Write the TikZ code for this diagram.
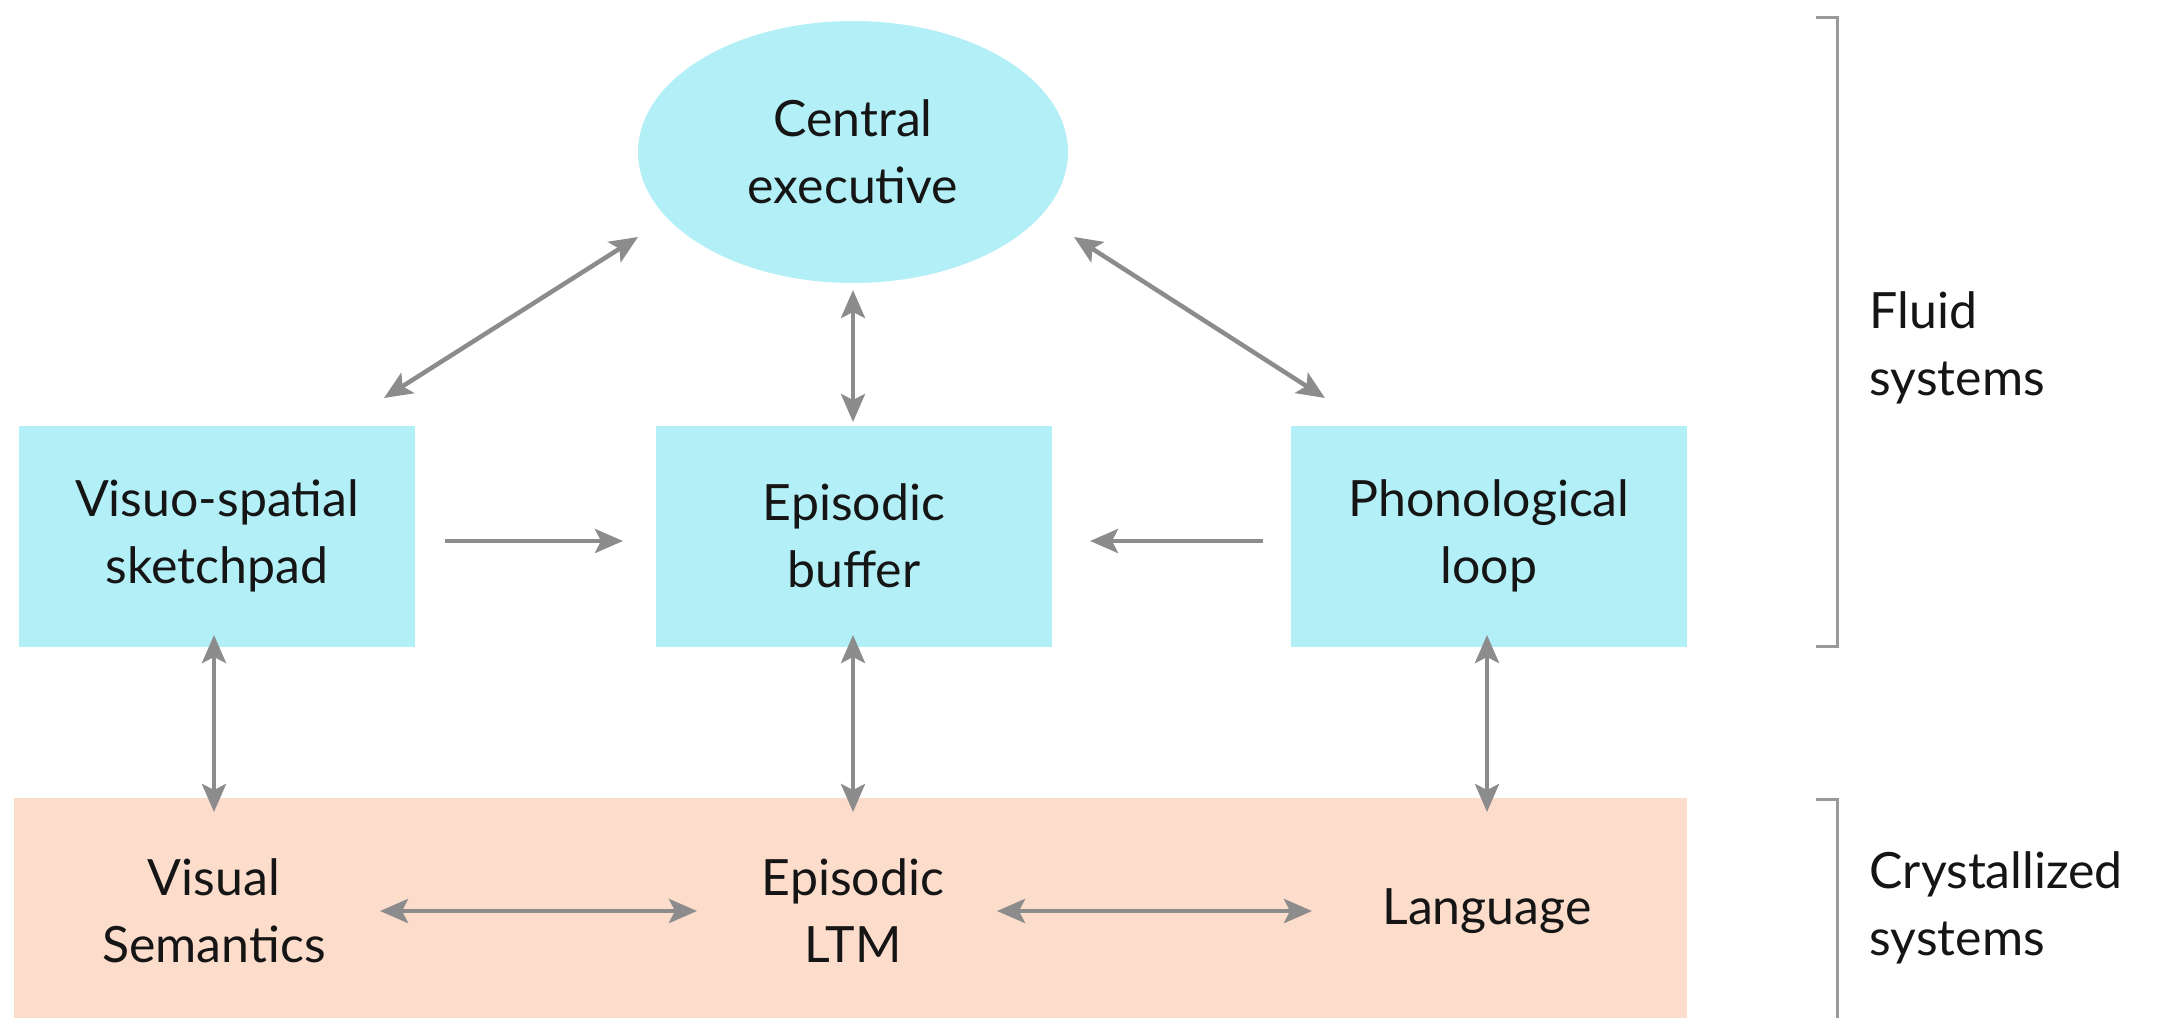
\documentclass[tikz,border=0pt]{standalone}
\usepackage{fontspec}
\setmainfont{Lato}
\usetikzlibrary{arrows.meta,calc,shapes.geometric}
\definecolor{cyanfill}{HTML}{B3EFF7}
\definecolor{peach}{HTML}{FCDCCB}
\definecolor{arrgray}{HTML}{8C8C8C}
\definecolor{brgray}{HTML}{999999}
\definecolor{ink}{HTML}{151515}
\begin{document}
\begin{tikzpicture}[x=1pt,y=-1pt,
  txt/.style={font=\fontsize{50}{67}\selectfont, text=ink, align=center},
  cbox/.style={txt, fill=cyanfill, minimum width=396pt, minimum height=221pt, inner sep=0pt},
  cell/.style={txt, ellipse, fill=cyanfill, minimum width=430pt, minimum height=262pt, inner sep=0pt},
  link/.style={draw=arrgray, line width=4.5pt, {Stealth[length=28pt,width=24pt,inset=6pt]}-{Stealth[length=28pt,width=24pt,inset=6pt]}},
  oneway/.style={draw=arrgray, line width=4.5pt, -{Stealth[length=28pt,width=24pt,inset=6pt]}},
  bracket/.style={draw=brgray, line width=3pt},
  side/.style={txt, align=left, anchor=west}]
\useasboundingbox (0,0) rectangle (2165,1017);
% bottom band
\node[fill=peach, inner sep=0pt, minimum width=1673pt, minimum height=225pt, anchor=north west] (band) at (14,798) {};
% nodes
\node[cell] (ce) at (853,152) {Central\\executive};
\node[cbox] (vs) at (217,536) {Visuo-spatial\\sketchpad};
\node[cbox] (eb) at (854,536) {Episodic\\buffer};
\node[cbox] (pl) at (1489,536) {Phonological\\loop};
\node[txt] (vsem) at (214,911) {Visual\\Semantics};
\node[txt] (ltm) at (853,911) {Episodic\\LTM};
\node[txt] (lang) at (1487,911) {Language};
\node[side] (fluid) at (1866,348) {Fluid\\systems};
\node[side] (cryst) at (1866,908) {Crystallized\\systems};
% coordinates for free ends
\coordinate (vsT) at (214,635);
\coordinate (vsB) at (214,812);
\coordinate (ebT) at (853,635);
\coordinate (ebB) at (853,812);
\coordinate (plT) at (1487,635);
\coordinate (plB) at (1487,812);
\coordinate (ceL) at (638,237);
\coordinate (vsUR) at (384,398);
\coordinate (ceR) at (1074,237);
\coordinate (plUL) at (1325,398);
\coordinate (ceB) at (853,290);
\coordinate (ebTop) at (853,422);
\coordinate (vsR) at (445,541);
\coordinate (ebL) at (623,541);
\coordinate (plL) at (1263,541);
\coordinate (ebR) at (1090,541);
\coordinate (vsemR) at (380,911);
\coordinate (ltmL) at (697,911);
\coordinate (ltmR) at (997,911);
\coordinate (langL) at (1312,911);
% connectors
\draw[link] (ceL) -- (vsUR);
\draw[link] (ceR) -- (plUL);
\draw[link] (ceB) -- (ebTop);
\draw[oneway] (vsR) -- (ebL);
\draw[oneway] (plL) -- (ebR);
\draw[link] (vsT) -- (vsB);
\draw[link] (ebT) -- (ebB);
\draw[link] (plT) -- (plB);
\draw[link] (vsemR) -- (ltmL);
\draw[link] (ltmR) -- (langL);
% brackets
\draw[bracket] (1816,17) -- (1837,17) -- (1837,646) -- (1816,646);
\draw[bracket] (1816,799) -- (1837,799) -- (1837,1020);
\end{tikzpicture}
\end{document}
